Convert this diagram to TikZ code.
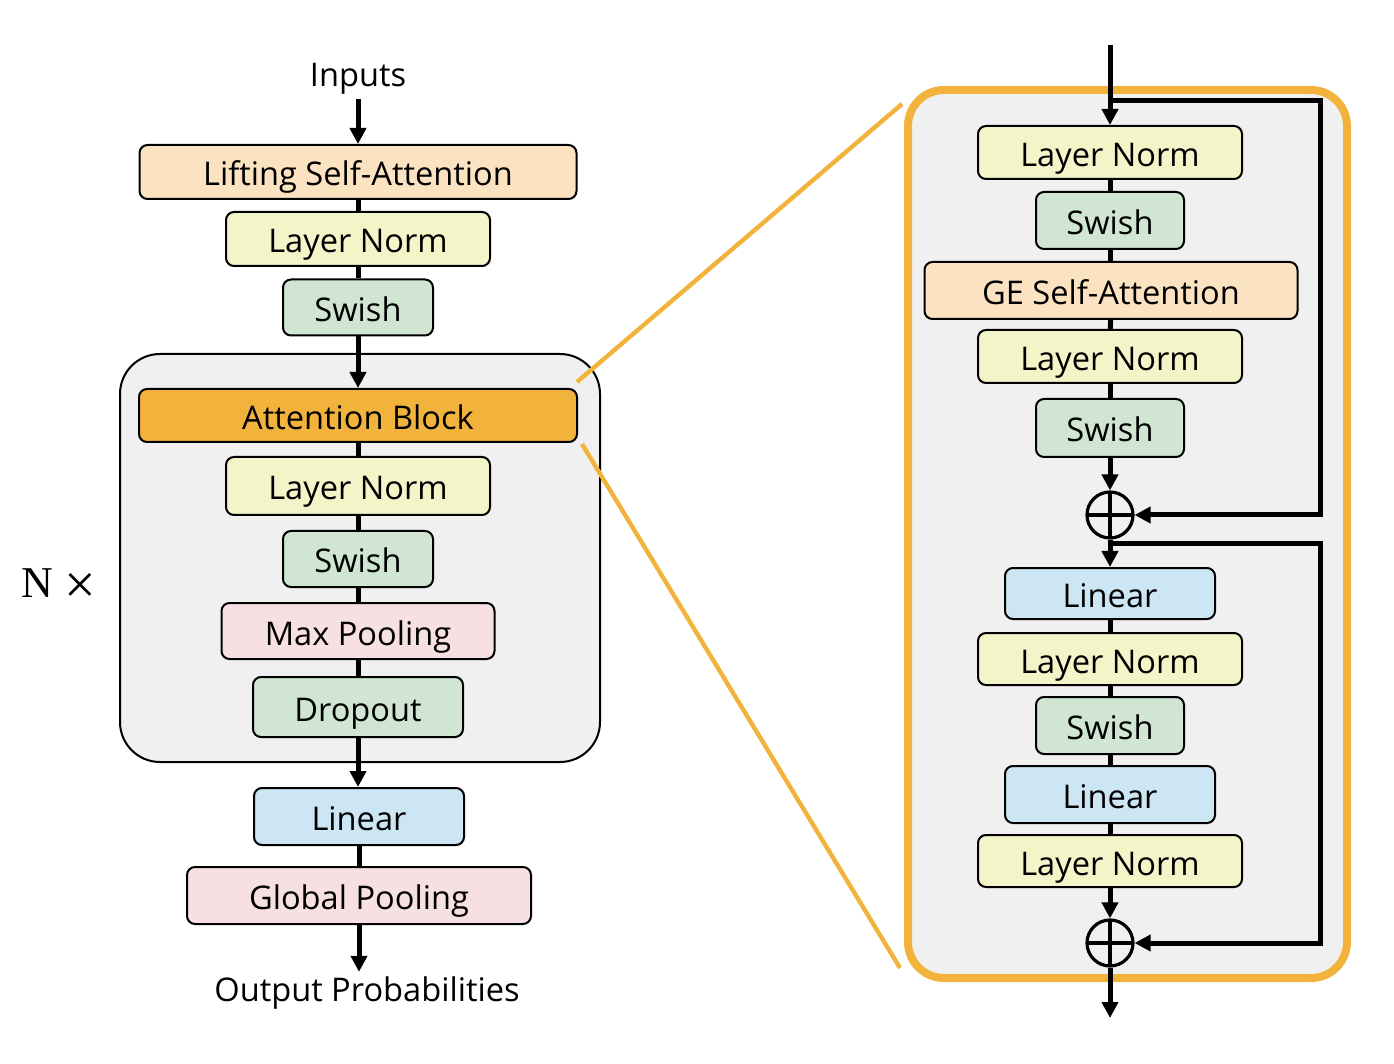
\documentclass[tikz,border=0pt]{standalone}
\usepackage{fontspec}
\setmainfont{Open Sans}
\newfontfamily\serifN{Liberation Serif}
\usetikzlibrary{arrows.meta}
\definecolor{cPeach}{HTML}{FBE3C2}
\definecolor{cYellow}{HTML}{F3F5C9}
\definecolor{cGreen}{HTML}{D0E6D2}
\definecolor{cOrange}{HTML}{F2B33D}
\definecolor{cPink}{HTML}{F6E0E2}
\definecolor{cBlue}{HTML}{CCE6F4}
\definecolor{cGray}{HTML}{F0F0F0}
\begin{document}
\begin{tikzpicture}[x=0.5pt,y=-0.5pt,
  blk/.style={draw=black, line width=1pt, rounded corners=4pt, inner sep=0pt,
    text height=14pt, text depth=0pt,
    font=\fontsize{16.3}{19}\selectfont, text=black},
  lnorm/.style={blk, fill=cYellow, minimum width=132pt, minimum height=27pt},
  swish/.style={blk, fill=cGreen, minimum width=75pt, minimum height=28pt},
  linear/.style={blk, fill=cBlue, minimum width=105pt, minimum height=28pt},
  pool/.style={blk, fill=cPink, minimum height=28pt},
  attn/.style={blk, fill=cPeach, minimum height=27pt},
  conn/.style={line width=2.5pt},
  arr/.style={line width=2.5pt, -{Triangle[width=8pt,length=8pt]}},
  plusnode/.style={circle, draw=black, line width=1.6pt, minimum size=23pt, inner sep=0pt,
    path picture={\draw[line width=1.6pt] (path picture bounding box.north) -- (path picture bounding box.south)
      (path picture bounding box.west) -- (path picture bounding box.east);}},
  lbl/.style={font=\fontsize{16.3}{19}\selectfont, inner sep=2pt}
]
\useasboundingbox (0,0) rectangle (1394,1064);

% backgrounds
\draw[fill=cGray, line width=1pt, rounded corners=20pt] (120,354) rectangle (600,762);
\draw[draw=cOrange, fill=cGray, line width=4pt, rounded corners=18pt] (908,90) rectangle (1347,978);

% zoom lines
\coordinate (z1a) at (577,382);
\coordinate (z1b) at (902,104);
\coordinate (z2a) at (582,444);
\coordinate (z2b) at (900,968);
\draw[cOrange, line width=2.2pt] (z1a) -- (z1b);
\draw[cOrange, line width=2.2pt] (z2a) -- (z2b);

% left column
\node[lbl, anchor=base] (in) at (358,87) {Inputs};
\node[attn, minimum width=218.5pt] (lsa) at (358,172) {Lifting Self-Attention};
\node[lnorm] (ln1) at (358,239) {Layer Norm};
\node[swish] (sw1) at (358,307.5) {Swish};
\node[blk, fill=cOrange, minimum width=219pt, minimum height=26.5pt] (ab) at (358,415.5) {Attention Block};
\node[lnorm, minimum height=29pt] (ln2) at (358,486) {Layer Norm};
\node[swish] (sw2) at (358,559) {Swish};
\node[pool, minimum width=136.5pt] (mp) at (358,631) {Max Pooling};
\node[blk, fill=cGreen, minimum width=105pt, minimum height=30pt] (do) at (358,707) {Dropout};
\node[linear, minimum height=28.5pt] (lin) at (359,816.5) {Linear};
\node[pool, minimum width=172pt, minimum height=28.5pt] (gp) at (359,895.5) {Global Pooling};
\node[lbl, anchor=base] (out) at (367,1001) {Output Probabilities};
\node[anchor=base west, inner sep=0pt, font=\serifN\fontsize{22}{26}\selectfont] (nx) at (21,597)
  {N\hspace{5.5pt}\raisebox{-3pt}{\fontsize{28}{30}\selectfont ×}};

\draw[arr] (in.south) -- (lsa.north);
\draw[conn] (lsa) -- (ln1);
\draw[conn] (ln1) -- (sw1);
\draw[arr] (sw1.south) -- (ab.north);
\draw[conn] (ab) -- (ln2);
\draw[conn] (ln2) -- (sw2);
\draw[conn] (sw2) -- (mp);
\draw[conn] (mp) -- (do);
\draw[arr] (do.south) -- (do.south |- lin.north);
\draw[conn] (lin) -- (gp);
\draw[arr] (gp.south) -- (gp.south |- out.north);

% right column
\coordinate (rin) at (1110,45);
\node[lnorm, minimum height=26.5pt] (rln1) at (1110,152.5) {Layer Norm};
\node[swish, minimum width=74pt, minimum height=28.5pt] (rsw1) at (1110,220.5) {Swish};
\node[attn, minimum width=186.5pt, minimum height=28.5pt] (ge) at (1111,290.5) {GE Self-Attention};
\node[lnorm, minimum height=26.5pt] (rln2) at (1110,356.5) {Layer Norm};
\node[swish, minimum width=74pt, minimum height=29pt] (rsw2) at (1110,428) {Swish};
\node[plusnode] (p1) at (1110,515) {};
\node[linear, minimum height=25.5pt] (rlin1) at (1110,593.5) {Linear};
\node[lnorm, minimum height=26pt] (rln3) at (1110,659) {Layer Norm};
\node[swish, minimum width=74pt, minimum height=28.5pt] (rsw3) at (1110,725.5) {Swish};
\node[linear, minimum height=28.5pt] (rlin2) at (1110,794.5) {Linear};
\node[lnorm, minimum height=26pt] (rln4) at (1110,861) {Layer Norm};
\node[plusnode] (p2) at (1110,943) {};
\coordinate (rout) at (1110,1018);

\coordinate (s1) at (1110,101);
\coordinate (c1a) at (1320,101);
\coordinate (c1b) at (1320,515);
\coordinate (s2) at (1110,544);
\coordinate (c2a) at (1320,544);
\coordinate (c2b) at (1320,943);

\draw[arr] (rin) -- (rln1.north);
\draw[conn] (rln1) -- (rsw1);
\draw[conn] (rsw1) -- (rsw1 |- ge.north);
\draw[conn] (ge) -- (rln2);
\draw[conn] (rln2) -- (rsw2);
\draw[arr] (rsw2.south) -- (p1.north);
\draw[arr] (p1.south) -- (rlin1.north);
\draw[conn] (rlin1) -- (rln3);
\draw[conn] (rln3) -- (rsw3);
\draw[conn] (rsw3) -- (rlin2);
\draw[conn] (rlin2) -- (rln4);
\draw[arr] (rln4.south) -- (p2.north);
\draw[arr] (p2.south) -- (rout);

\draw[arr] (s1) -- (c1a) -- (c1b) -- (p1.east);
\draw[arr] (s2) -- (c2a) -- (c2b) -- (p2.east);
\end{tikzpicture}
\end{document}
